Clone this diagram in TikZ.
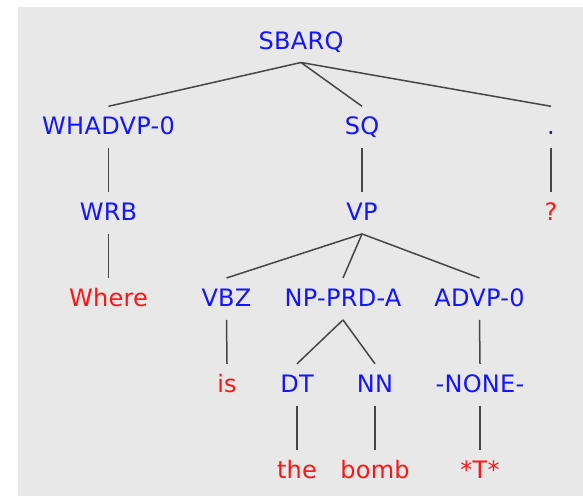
\documentclass[tikz,border=0pt]{standalone}
\usepackage{fontspec}
\setmainfont[LetterSpace=1.2]{DejaVu Sans}
\definecolor{bggray}{RGB}{232,232,232}
\definecolor{catblue}{RGB}{20,20,255}
\definecolor{wordred}{RGB}{255,20,20}
\definecolor{edgegray}{RGB}{70,70,70}
\begin{document}
\begin{tikzpicture}[x=1pt,y=-1pt,
  lab/.style={anchor=base, font=\fontsize{24}{28}\selectfont,
    text height=17.5pt, text depth=2pt, inner xsep=0pt, inner ysep=11pt},
  cat/.style={lab, text=catblue},
  word/.style={lab, text=wordred},
  edge/.style={draw=edgegray, line width=1.5pt}]
\useasboundingbox (0,0) rectangle (583,497);
\fill[bggray] (18,7) rectangle (583,496);

% level 0
\node[cat] (sbarq) at (301,49.3) {SBARQ};
% level 1
\node[cat] (whadvp) at (108.5,135) {WHADVP-0};
\node[cat] (sq)     at (362,135)   {SQ};
\node[cat] (dot)    at (551,135)   {.};
% level 2
\node[cat]  (wrb) at (108.5,220.7) {WRB};
\node[cat]  (vp)  at (362,220.7)   {VP};
\node[word] (qm)  at (551,220.7)   {?};
% level 3
\node[word] (where) at (108.5,306.7) {Where};
\node[cat]  (vbz)   at (226.5,306.7) {VBZ};
\node[cat]  (np)    at (343,306.7)   {NP-PRD-A};
\node[cat]  (advp)  at (479.5,306.7) {ADVP-0};
% level 4
\node[word] (is)   at (227,392.5) {is};
\node[cat]  (dt)   at (297,392.5) {DT};
\node[cat]  (nn)   at (375,392.5) {NN};
\node[cat]  (none) at (480,392.5) {-NONE-};
% level 5
\node[word] (the)  at (297,478.5) {the};
\node[word] (bomb) at (375,478.5) {bomb};
\node[word] (trace) at (480,478.5) {*T*};

% branches
\draw[edge] (sbarq.south) -- (whadvp.north);
\draw[edge] (sbarq.south) -- (sq.north);
\draw[edge] (sbarq.south) -- (dot.north);
\draw[edge] (whadvp.south) -- (wrb.north);
\draw[edge] (sq.south) -- (vp.north);
\draw[edge] (dot.south) -- (qm.north);
\draw[edge] (wrb.south) -- (where.north);
\draw[edge] (vp.south) -- (vbz.north);
\draw[edge] (vp.south) -- (np.north);
\draw[edge] (vp.south) -- (advp.north);
\draw[edge] (vbz.south) -- (is.north);
\draw[edge] (np.south) -- (dt.north);
\draw[edge] (np.south) -- (nn.north);
\draw[edge] (advp.south) -- (none.north);
\draw[edge] (dt.south) -- (the.north);
\draw[edge] (nn.south) -- (bomb.north);
\draw[edge] (none.south) -- (trace.north);
\end{tikzpicture}
\end{document}
